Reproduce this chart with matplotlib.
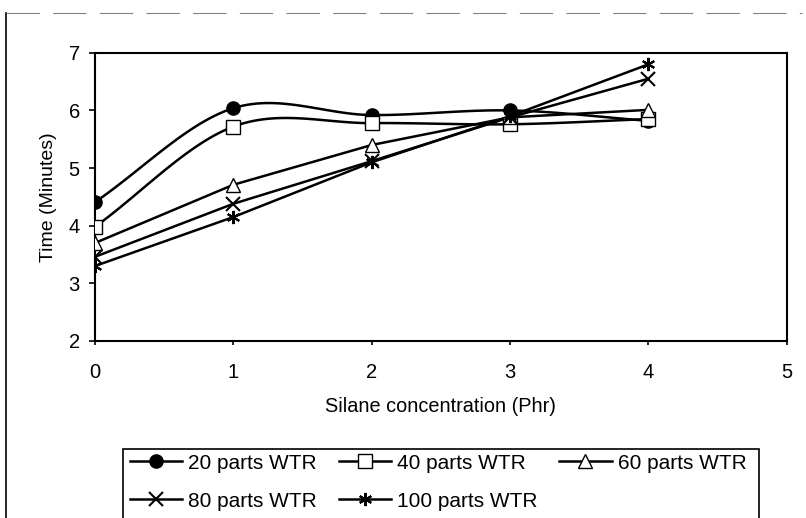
import numpy as np
import matplotlib.pyplot as plt
from matplotlib.lines import Line2D
from matplotlib.patches import Rectangle

plt.rcParams['font.family'] = ['Liberation Sans', 'DejaVu Sans']

silane = [0, 1, 2, 3, 4]
wtr20 = [4.41, 6.04, 5.92, 6.00, 5.82]
wtr40 = [3.98, 5.72, 5.78, 5.76, 5.85]
wtr60 = [3.70, 4.71, 5.40, 5.88, 6.01]
wtr80 = [3.46, 4.38, 5.12, 5.88, 6.55]
wtr100 = [3.30, 4.15, 5.10, 5.90, 6.80]


def smooth(x, y, n=30):
    # Catmull-Rom style smoothing like Excel's smoothed line
    x = np.asarray(x, float)
    y = np.asarray(y, float)
    px = np.concatenate([[2 * x[0] - x[1]], x, [2 * x[-1] - x[-2]]])
    py = np.concatenate([[2 * y[0] - y[1]], y, [2 * y[-1] - y[-2]]])
    xs, ys = [], []
    t = np.linspace(0, 1, n)
    for i in range(1, len(px) - 2):
        for p, out in ((px, xs), (py, ys)):
            p0, p1, p2, p3 = p[i - 1], p[i], p[i + 1], p[i + 2]
            out.extend(0.5 * (2 * p1 + (-p0 + p2) * t
                              + (2 * p0 - 5 * p1 + 4 * p2 - p3) * t ** 2
                              + (-p0 + 3 * p1 - 3 * p2 + p3) * t ** 3))
    return xs, ys


fig = plt.figure(figsize=(8.06, 5.18), dpi=100)
ax = fig.add_axes([0.118, 0.342, 0.858, 0.556])

series = [
    ('20 parts WTR', wtr20, dict(marker='o', markerfacecolor='black'), True),
    ('40 parts WTR', wtr40, dict(marker='s', markerfacecolor='white'), True),
    ('60 parts WTR', wtr60, dict(marker='^', markerfacecolor='white'), False),
    ('80 parts WTR', wtr80, dict(marker='x', markeredgewidth=1.5), False),
    ('100 parts WTR', wtr100, dict(marker=(6, 2, 0), markeredgewidth=1.5), False),
]

handles = []
for label, vals, mk, sm in series:
    if sm:
        xs, ys = smooth(silane, vals)
    else:
        xs, ys = silane, vals
    ax.plot(xs, ys, color='black', lw=1.8, zorder=2)
    ax.plot(silane, vals, linestyle='none', color='black', markersize=9.5,
            markeredgecolor='black', zorder=3, **mk)
    handles.append(Line2D([], [], color='black', lw=1.8, markersize=9.5,
                          markeredgecolor='black', label=label, **mk))

ax.set_xlim(0, 5)
ax.set_ylim(2, 7)
ax.set_xticks(range(0, 6))
ax.set_yticks(range(2, 8))
ax.tick_params(labelsize=14.5, width=1.2)
ax.tick_params(axis='x', length=3, pad=13)
ax.tick_params(axis='y', length=4, pad=7)
for s in ax.spines.values():
    s.set_linewidth(1.5)
ax.set_xlabel('Silane concentration (Phr)', fontsize=14.3, labelpad=11)
ax.set_ylabel('Time (Minutes)', fontsize=14, labelpad=8)

# legend filled row by row like the original, frame drawn separately
order = [0, 3, 1, 4, 2]
leg = fig.legend(handles=[handles[i] for i in order], loc='upper left', ncol=3,
                 bbox_to_anchor=(0.161, 0.124), borderaxespad=0,
                 fontsize=15, frameon=False, borderpad=0,
                 handlelength=2.5, handletextpad=0.3, columnspacing=1.05,
                 labelspacing=0.9)
fig.add_artist(Rectangle((0.153, -0.01), 0.789, 0.143, transform=fig.transFigure,
                         fill=False, edgecolor='black', lw=1.2))

# outer chart border (scanned)
fig.add_artist(Line2D([0.007, 0.007], [0.0, 0.975], color='black', lw=1.2))
fig.add_artist(Line2D([0.007, 0.995], [0.975, 0.975], color='gray', lw=0.8,
                      linestyle=(0, (30, 12))))

fig.savefig('out.png', dpi=100)
